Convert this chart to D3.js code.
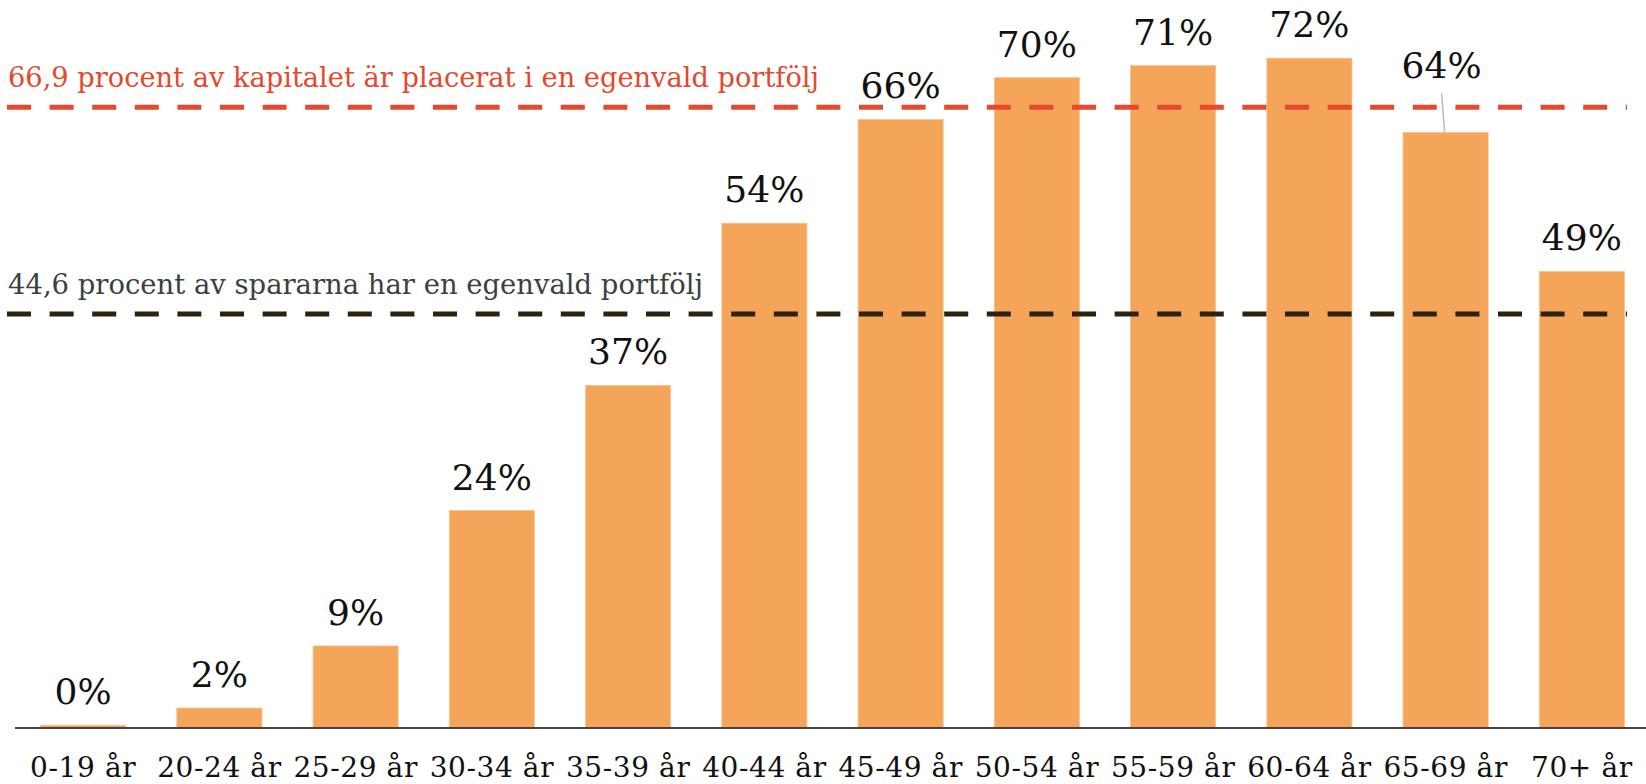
<!DOCTYPE html>
<meta charset="utf-8">
<style>
  body { margin: 0; background: #fff; }
  text { font-family: "DejaVu Serif", "Liberation Serif", serif; }
</style>

<!-- Load d3.js -->
<script src="https://d3js.org/d3.v7.min.js"></script>

<div id="my_dataviz"></div>

<script>
    // data
    var ageGroups = ["0-19 år", "20-24 år", "25-29 år", "30-34 år", "35-39 år", "40-44 år",
                     "45-49 år", "50-54 år", "55-59 år", "60-64 år", "65-69 år", "70+ år"];
    var shares = [0.24, 2.1, 8.8, 23.4, 36.9, 54.4, 65.6, 70.1, 71.4, 72.2, 64.2, 49.2];
    var shareLabels = ["0%", "2%", "9%", "24%", "37%", "54%", "66%", "70%", "71%", "72%", "64%", "49%"];

    var refValues = [66.9, 44.6];
    var refLabels = ["66,9 procent av kapitalet är placerat i en egenvald portfölj",
                     "44,6 procent av spararna har en egenvald portfölj"];

    // dimensions
    var width = 1646,
        height = 784,
        baseline = 727.5;

    var svg = d3.select("#my_dataviz")
      .append("svg")
        .attr("width", width)
        .attr("height", height);

    // X scale
    var x = d3.scaleBand()
        .domain(ageGroups)
        .range([15, 1650])
        .paddingInner(0.375)
        .paddingOuter(0.1875);

    // Y scale
    var y = d3.scaleLinear()
        .domain([0, 80])
        .range([baseline, baseline - 80 * 9.27]);

    //Bars
    svg.selectAll("rect.bar")
        .data(shares)
        .enter()
        .append("rect")
        .attr("class", "bar")
        .attr("x", function(d, i) { return x(ageGroups[i]); })
        .attr("y", function(d) { return y(d); })
        .attr("width", x.bandwidth())
        .attr("height", function(d) { return y(0) - y(d); })
        .attr("fill", "#f5a55a")
        .attr("stroke", "#f8c48f")
        .attr("stroke-width", 0.8);

    // reference lines
    var refColors = ["#e8492c", "#2b2211"];
    var refTextColors = ["#e5482d", "#3b4040"];
    var refTextLength = [811, 695];

    svg.selectAll("line.ref")
        .data(refValues)
        .enter()
        .append("line")
        .attr("class", "ref")
        .attr("x1", 7)
        .attr("x2", 1627)
        .attr("y1", function(d) { return y(d); })
        .attr("y2", function(d) { return y(d); })
        .attr("stroke", function(d, i) { return refColors[i]; })
        .attr("stroke-width", 5)
        .attr("stroke-dasharray", "24,18.6");

    svg.selectAll("text.ref")
        .data(refValues)
        .enter()
        .append("text")
        .attr("class", "ref")
        .attr("x", 8)
        .attr("y", function(d) { return y(d) - 20; })
        .attr("font-size", "27px")
        .attr("textLength", function(d, i) { return refTextLength[i]; })
        .attr("lengthAdjust", "spacingAndGlyphs")
        .attr("fill", function(d, i) { return refTextColors[i]; })
        .text(function(d, i) { return refLabels[i]; });

    // axis line
    svg.append("line")
        .attr("x1", 15)
        .attr("x2", width)
        .attr("y1", 728)
        .attr("y2", 728)
        .attr("stroke", "#444")
        .attr("stroke-width", 2.2);

    // category labels
    svg.selectAll("text.cat")
        .data(ageGroups)
        .enter()
        .append("text")
        .attr("class", "cat")
        .attr("x", function(d) { return x(d) + x.bandwidth() / 2; })
        .attr("y", 777)
        .attr("text-anchor", "middle")
        .attr("font-size", "28px")
        .attr("letter-spacing", "0.6px")
        .attr("fill", "#111")
        .text(function(d) { return d; });

    // value labels, the 65-69 one is lifted above the red line with a leader
    var lifted = "65-69 år";
    svg.selectAll("text.val")
        .data(shares)
        .enter()
        .append("text")
        .attr("class", "val")
        .attr("x", function(d, i) {
            var cx = x(ageGroups[i]) + x.bandwidth() / 2;
            return ageGroups[i] == lifted ? cx - 4 : cx;
        })
        .attr("y", function(d, i) { return y(d) - (ageGroups[i] == lifted ? 54 : 21); })
        .attr("text-anchor", "middle")
        .attr("font-size", "36px")
        .attr("fill", "#111")
        .text(function(d, i) { return shareLabels[i]; });

    var li = ageGroups.indexOf(lifted);
    svg.append("line")
        .attr("x1", x(lifted) + x.bandwidth() / 2 - 4)
        .attr("x2", x(lifted) + x.bandwidth() / 2 - 1)
        .attr("y1", y(shares[li]) - 39)
        .attr("y2", y(shares[li]))
        .attr("stroke", "#b8bcbc")
        .attr("stroke-width", 1.5);
</script>
